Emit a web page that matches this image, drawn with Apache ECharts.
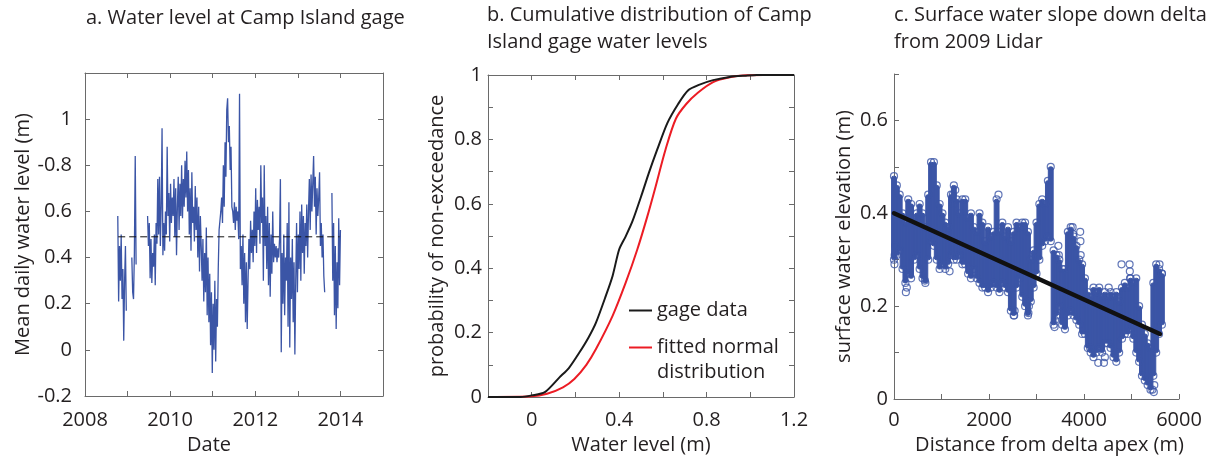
<!DOCTYPE html>
<html><head><meta charset="utf-8">
<script src="https://cdn.jsdelivr.net/npm/echarts@6/dist/echarts.min.js"></script>
<style>html,body{margin:0;padding:0;background:#fff}#c{width:1227px;height:460px}</style>
</head><body><div id="c"></div>
<script>
// ---------- Panel a: water level time series ----------
const levelStep = 0.02; // years between samples
const levelSeg1Start = 2008.77;
const levelSeg1 = [0.58,0.21,0.45,0.30,0.50,0.22,0.35,0.04,0.30,0.45,0.17];
const levelSeg2Start = 2009.10;
const levelSeg2 = [0.40,0.25,0.22,0.42,0.84,0.37];
const levelSeg3Start = 2009.47;
const levelSeg3 = [
0.58,0.45,0.55,0.31,0.48, 0.29,0.42,0.36,0.50,0.28,
0.55,0.46,0.74,0.50,0.75, 0.45,0.62,0.96,0.41,0.55,
0.43,0.60,0.50,0.88,0.58, 0.68,0.47,0.72,0.55,0.66,
0.58,0.74,0.49,0.70,0.41, 0.62,0.75,0.52,0.72,0.58,
0.80,0.57,0.74,0.62,0.82, 0.66,0.86,0.60,0.78,0.50,
0.70,0.43,0.77,0.55,0.62, 0.47,0.71,0.52,0.66,0.40,
0.62,0.34,0.58,0.45,0.30, 0.48,0.21,0.42,0.25,0.53,
0.15,0.40,0.12,0.33,0.02, 0.25,-0.10,0.20,0.00,0.30,
-0.05,0.22,0.10,0.35,0.52, 0.56,0.60,0.66,0.55,0.80,
0.62,0.90,0.75,1.04,1.09, 0.90,0.97,0.78,0.88,0.62,
0.60,0.55,0.64,0.52,0.62, 0.56,0.60,0.48,1.11,0.35,
0.45,0.28,0.50,0.20,0.42, 0.12,0.38,0.09,0.30,0.48,
0.35,0.56,0.42,0.52,0.38, 0.60,0.45,0.70,0.42,0.65,
0.52,0.62,0.46,0.80,0.55, 0.66,0.30,0.80,0.45,0.58,
0.35,0.62,0.28,0.55,0.23, 0.50,0.33,0.60,0.38,0.46,
0.40,0.45,0.38,0.44,0.40, 0.48,0.74,-0.01,0.42,0.20,
0.50,0.15,0.40,0.30,0.55, 0.10,0.64,0.01,0.40,0.22,
0.48,0.12,0.38,-0.02,0.30, 0.55,0.25,0.50,0.35,0.60,
0.30,0.63,0.42,0.58,0.33, 0.55,0.45,0.63,0.40,0.60,
0.74,0.52,0.76,0.60,0.72, 0.84,0.62,0.75,0.50,0.70,
0.58,0.66,0.77,0.45,0.55, 0.40,0.50,0.32,0.25
];
const levelSeg4Start = 2013.80;
const levelSeg4 = [0.68,0.30,0.55,0.15,0.45,0.09,0.38,0.18,0.57,0.28,0.52];
const meanLevel = 0.49;
const meanLineYears = [2008.78, 2013.98];
const aXTickLabels = ['2008','','2010','','2012','','2014',''];
const aYTickLabels = ['-0.2','0','0.2','0.4','0.6','-0.8','1',''];

// ---------- Panel b: cumulative distributions ----------
const gageLevel = [-0.2,-0.05,0.0,0.06,0.127,0.17,0.218,0.26,0.294,0.339,0.370,0.40,0.430,0.461,0.506,0.536,0.574,0.62,0.67,0.715,0.768,0.83,0.906,0.98,1.03,1.2];
const gageProb  = [0,0,0.005,0.015,0.061,0.09,0.138,0.185,0.231,0.314,0.376,0.458,0.499,0.546,0.634,0.696,0.768,0.85,0.91,0.952,0.97,0.984,0.994,0.998,1.0,1.0];
const normLevel = [-0.2,0.0,0.07,0.143,0.195,0.25,0.294,0.370,0.430,0.483,0.529,0.567,0.612,0.66,0.707,0.76,0.83,0.906,0.98,1.06,1.2];
const normProb  = [0,0.002,0.01,0.03,0.056,0.1,0.149,0.252,0.355,0.458,0.561,0.654,0.768,0.865,0.91,0.945,0.978,0.993,0.999,1.0,1.0];
const gageName = 'gage data';
const normName = 'fitted normal\ndistribution';
const bXTickLabels = ['','0','','0.4','','0.8','','1.2'];
const bYTickLabels = ['0','','0.2','','0.4','','0.6','','0.8','','1'];

// ---------- Panel c: surface water elevation profile ----------
const profileDist = [0,60,120,180,240,300,360,420,480,540,600,660,720,780,840,900,960,1020,1080,1140,
1200,1260,1320,1380,1440,1500,1560,1620,1680,1740,1800,1860,1920,1980,2040,2100,2160,2220,2280,2340,
2400,2460,2520,2580,2640,2700,2760,2820,2880,2940,3000,3060,3120,3180,3240,3300,3360,3420,3480,3540,
3600,3660,3720,3780,3840,3900,3960,4020,4080,4140,4200,4260,4320,4380,4440,4500,4560,4620,4680,4740,
4800,4860,4920,4980,5040,5100,5160,5220,5280,5340,5400,5460,5520,5580,5640];
const profileLow = [0.30,0.31,0.32,0.28,0.25,0.27,0.26,0.30,0.31,0.28,0.26,0.25,0.30,0.34,0.33,0.30,0.28,0.29,0.28,0.29,
0.31,0.30,0.30,0.31,0.29,0.29,0.27,0.26,0.28,0.26,0.25,0.24,0.24,0.23,0.24,0.25,0.24,0.23,0.25,0.24,
0.23,0.19,0.18,0.24,0.26,0.22,0.20,0.18,0.21,0.24,0.27,0.30,0.33,0.34,0.35,0.34,0.16,0.18,0.20,0.16,
0.15,0.18,0.19,0.18,0.17,0.16,0.14,0.14,0.11,0.10,0.09,0.10,0.11,0.10,0.12,0.12,0.11,0.09,0.08,0.10,
0.13,0.14,0.14,0.15,0.13,0.10,0.08,0.05,0.04,0.03,0.02,0.05,0.10,0.14,0.16];
const profileHigh = [0.48,0.46,0.44,0.40,0.38,0.43,0.42,0.38,0.40,0.42,0.40,0.37,0.44,0.51,0.51,0.46,0.42,0.40,0.38,0.37,
0.44,0.46,0.43,0.40,0.43,0.43,0.39,0.40,0.37,0.36,0.40,0.38,0.34,0.37,0.35,0.36,0.43,0.36,0.38,0.35,
0.37,0.34,0.36,0.38,0.37,0.38,0.38,0.36,0.30,0.32,0.38,0.42,0.43,0.42,0.47,0.50,0.32,0.31,0.30,0.28,
0.28,0.36,0.37,0.35,0.33,0.30,0.29,0.26,0.23,0.22,0.24,0.23,0.24,0.22,0.23,0.22,0.23,0.22,0.23,0.21,
0.24,0.25,0.24,0.26,0.25,0.26,0.20,0.16,0.14,0.12,0.11,0.25,0.29,0.28,0.27];
const outlierDist = [10,15,25,250,270,650,1170,1290,1240,1260,2200,2530,2540,2830,2840,3380,3390,3460,3470,3760,3770,3920,3925,3930,4130,4300,4420,4440,4520,4790,4960,4965,4970,5440,5470,5480,5590,5640];
const outlierElev = [0.29,0.31,0.33,0.23,0.24,0.255,0.275,0.45,0.44,0.42,0.44,0.18,0.19,0.185,0.20,0.155,0.17,0.33,0.31,0.37,0.355,0.36,0.34,0.31,0.11,0.078,0.078,0.09,0.24,0.29,0.29,0.275,0.26,0.02,0.015,0.03,0.29,0.27];
const fitDist = [0, 5600];
const fitElev = [0.40, 0.14];
const cXTickLabels = ['0','','2000','','4000','','6000'];
const cYTickLabels = ['0','','0.2','','0.4','','0.6',''];

// ---------- styling ----------
const FONT = '"Open Sans", sans-serif';
const TXT = '#231f20';
const AX = '#6a6a6a';
const BLUE = '#3b55a6';

function seg(start, vals) { return vals.map((v, i) => [start + i * levelStep, v]); }
function pairs(xs, ys) { return xs.map((x, i) => [x, ys[i]]); }
function labeler(arr, min, step) {
  return v => { const k = Math.round((v - min) / step); return arr[k] !== undefined ? arr[k] : ''; };
}
function axis(gi, min, max, interval, opts) {
  const o = {
    type: 'value', gridIndex: gi, min: min, max: max, interval: interval,
    axisLine: { show: true, onZero: false, lineStyle: { color: AX, width: 1 } },
    axisTick: { show: true, inside: true, length: 5, lineStyle: { color: AX } },
    splitLine: { show: false },
    axisLabel: { show: false }
  };
  return Object.assign(o, opts || {});
}
function lab(arr, min, step, margin) {
  return { show: true, formatter: labeler(arr, min, step), color: TXT, fontSize: 20, fontFamily: FONT, margin: margin };
}
const nameStyle = { fontSize: 20, color: TXT, fontFamily: FONT };
const titleStyle = { fontSize: 20, fontWeight: 'normal', color: TXT, fontFamily: FONT, lineHeight: 27 };
const legendText = { fontSize: 20, color: TXT, fontFamily: FONT, lineHeight: 25 };

const chart = echarts.init(document.getElementById('c'), null, { renderer: 'canvas' });
const bandData = profileDist.map((d, i) => [d, profileLow[i], profileHigh[i]]);

const option = {
  animation: false,
  backgroundColor: '#fff',
  title: [
    { text: 'a. Water level at Camp Island gage', left: 86, top: 5, padding: 0, textStyle: titleStyle },
    { text: 'b. Cumulative distribution of Camp\nIsland gage water levels', left: 487, top: 2, padding: 0, textStyle: titleStyle },
    { text: 'c. Surface water slope down delta\nfrom 2009 Lidar', left: 894, top: 2, padding: 0, textStyle: titleStyle }
  ],
  grid: [
    { left: 85, top: 73, width: 298, height: 324 },
    { left: 488, top: 75, width: 306, height: 323 },
    { left: 894, top: 74, width: 285, height: 326 }
  ],
  legend: [
    { left: 629, top: 298, orient: 'vertical', padding: 0, itemWidth: 23, itemHeight: 2, icon: 'rect',
      textStyle: legendText, data: [gageName] },
    { left: 629, top: 310, orient: 'vertical', padding: 0, itemWidth: 23, itemHeight: 2, icon: 'rect',
      textStyle: legendText, formatter: name => ' \n' + name, data: [normName] }
  ],
  xAxis: [
    axis(0, 2008, 2015, 1, { position: 'bottom', axisLabel: lab(aXTickLabels, 2008, 1, 14),
      name: 'Date', nameLocation: 'middle', nameGap: 39, nameTextStyle: Object.assign({ padding: [0, 50, 0, 0] }, nameStyle) }),
    axis(0, 2008, 2015, 1, { position: 'top' }),
    axis(1, -0.2, 1.2, 0.2, { position: 'bottom', axisLabel: lab(bXTickLabels, -0.2, 0.2, 13),
      name: 'Water level (m)', nameLocation: 'middle', nameGap: 38, nameTextStyle: nameStyle }),
    axis(1, -0.2, 1.2, 0.2, { position: 'top' }),
    axis(2, 0, 6000, 1000, { position: 'bottom', axisLabel: lab(cXTickLabels, 0, 1000, 11),
      name: 'Distance from delta apex (m)', nameLocation: 'middle', nameGap: 36, nameTextStyle: Object.assign({ padding: [0, 0, 0, 26] }, nameStyle) })
  ],
  yAxis: [
    axis(0, -0.2, 1.2, 0.2, { position: 'left', axisLabel: lab(aYTickLabels, -0.2, 0.2, 13),
      name: 'Mean daily water level (m)', nameLocation: 'middle', nameGap: 52, nameTextStyle: nameStyle }),
    axis(0, -0.2, 1.2, 0.2, { position: 'right' }),
    axis(1, 0, 1, 0.1, { position: 'left', axisLabel: lab(bYTickLabels, 0, 0.1, 6),
      name: 'probability of non-exceedance', nameLocation: 'middle', nameGap: 41, nameTextStyle: nameStyle }),
    axis(1, 0, 1, 0.1, { position: 'right' }),
    axis(2, 0, 0.7, 0.1, { position: 'left', axisLabel: lab(cYTickLabels, 0, 0.1, 6),
      name: 'surface water elevation (m)', nameLocation: 'middle', nameGap: 40, nameTextStyle: nameStyle })
  ],
  series: [
    // panel a
    ...[ [levelSeg1Start, levelSeg1], [levelSeg2Start, levelSeg2], [levelSeg3Start, levelSeg3], [levelSeg4Start, levelSeg4] ].map(s => ({
      type: 'line', xAxisIndex: 0, yAxisIndex: 0, data: seg(s[0], s[1]), showSymbol: false, symbol: 'none',
      lineStyle: { color: BLUE, width: 1.3 }, z: 2, silent: true
    })),
    { type: 'line', xAxisIndex: 0, yAxisIndex: 0, data: meanLineYears.map(y => [y, meanLevel]), symbol: 'none',
      lineStyle: { color: '#111', width: 1, type: [7, 4] }, z: 3, silent: true },
    // panel b
    { name: gageName, type: 'line', xAxisIndex: 2, yAxisIndex: 2, data: pairs(gageLevel, gageProb), symbol: 'none', smooth: 0.25,
      lineStyle: { color: '#1a1a1a', width: 2 }, itemStyle: { color: '#1a1a1a' }, z: 3 },
    { name: normName, type: 'line', xAxisIndex: 2, yAxisIndex: 2, data: pairs(normLevel, normProb), symbol: 'none', smooth: 0.3,
      lineStyle: { color: '#ec1c24', width: 2 }, itemStyle: { color: '#ec1c24' }, z: 2 },
    // panel c
    { type: 'custom', xAxisIndex: 4, yAxisIndex: 4, data: bandData, z: 1, silent: true,
      renderItem: function (params, api) {
        const i = params.dataIndex;
        const d = api.value(0), lo = api.value(1), hi = api.value(2);
        const prev = i > 0 ? profileDist[i - 1] : d - (profileDist[1] - profileDist[0]);
        const next = i < profileDist.length - 1 ? profileDist[i + 1] : d + (d - profileDist[i - 1]);
        const a = api.coord([(prev + d) / 2, hi]);
        const b = api.coord([(d + next) / 2, lo]);
        return { type: 'rect', shape: { x: a[0] - 1, y: a[1], width: b[0] - a[0] + 2, height: b[1] - a[1], r: 2 },
                 style: { fill: BLUE, stroke: BLUE, lineWidth: 1 } };
      }
    },
    { type: 'scatter', xAxisIndex: 4, yAxisIndex: 4, symbol: 'circle', symbolSize: 7, silent: true, z: 2,
      data: pairs(profileDist, profileLow).concat(pairs(profileDist, profileHigh), pairs(outlierDist, outlierElev)),
      itemStyle: { color: 'rgba(255,255,255,0)', borderColor: BLUE, borderWidth: 1.2 } },
    { type: 'line', xAxisIndex: 4, yAxisIndex: 4, data: pairs(fitDist, fitElev), symbol: 'none', z: 5, silent: true,
      lineStyle: { color: '#111', width: 4.5, cap: 'round' } }
  ]
};
chart.setOption(option);
</script></body></html>
